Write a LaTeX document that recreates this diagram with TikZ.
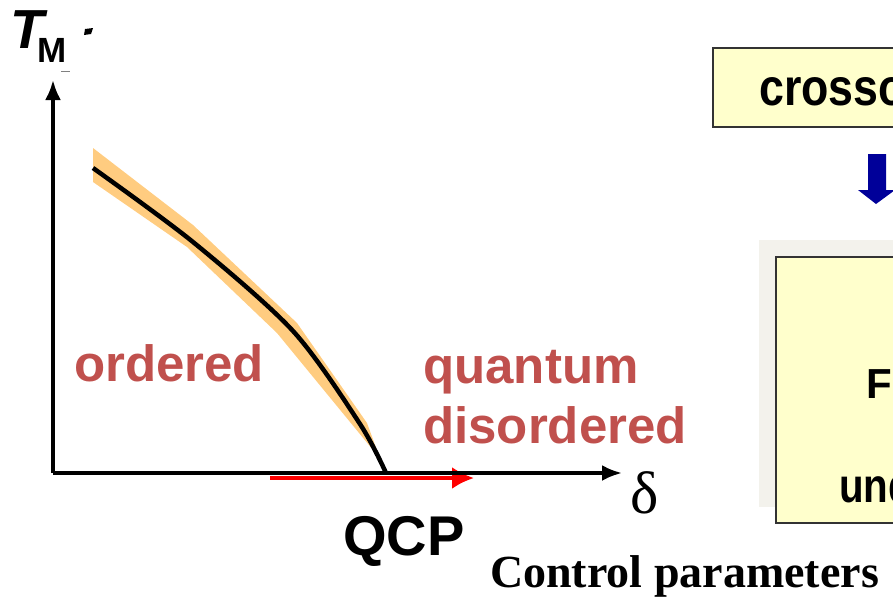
\documentclass[tikz,border=0pt]{standalone}
\usepackage{fontspec}
\setmainfont{Liberation Serif}
\setsansfont{Liberation Sans}
\usetikzlibrary{arrows.meta}

\definecolor{phasered}{HTML}{C0504D}
\definecolor{bandorange}{HTML}{FFCC80}
\definecolor{boxyellow}{HTML}{FFFFCC}
\definecolor{panelgray}{HTML}{F3F2EC}
\definecolor{arrowblue}{HTML}{000099}

\tikzset{
  lbl/.style={inner sep=0pt, anchor=base west, font=\sffamily\bfseries\fontsize{51}{60}\selectfont},
  phase/.style={lbl, text=phasered},
  axis/.style={line width=3.5pt, -{Latex[length=20pt,width=16pt]}},
  infobox/.style={draw=black!80, line width=1.5pt, fill=boxyellow},
}

\begin{document}
\begin{tikzpicture}[x=1pt,y=-1pt]
  \useasboundingbox (0,0) rectangle (893,598);

  % phase diagram
  \coordinate (origin) at (53,473);
  \coordinate (ytip) at (53,80);
  \coordinate (xtip) at (622,473);
  \coordinate (qstart) at (270,478);
  \coordinate (qend) at (474,478);

  \fill[bandorange] (93,148) -- (193,225) -- (297,323) -- (367,423) -- (385,472)
    -- (373,450) -- (277,333) -- (187,247) -- (93,182) -- cycle;
  \draw[red, line width=3.5pt, -{Latex[length=22pt,width=22pt]}] (qstart) -- (qend);
  \draw[axis] (origin) -- (ytip);
  \draw[axis] (origin) -- (xtip);
  \draw[line width=4.5pt, smooth] plot coordinates {(93,168) (193,242) (293,331) (360,424) (386,473)};

  \node[lbl, font=\sffamily\bfseries\itshape\fontsize{55}{60}\selectfont] (tlbl) at (10,48) {T};
  \node[lbl, font=\sffamily\bfseries\fontsize{35}{40}\selectfont] (mlbl) at (37,62) {M};
  \fill (85,29) -- (93,28) -- (91,34) -- (84,35) -- cycle;
  \draw[gray, line width=0.8pt] (61,71) -- (70,71);

  \node[phase] (ordered) at (74,381) {ordered};
  \node[phase] (quantum) at (423,383) {quantum};
  \node[phase] (disord) at (423,443) {disordered};
  \node[lbl, font=\sffamily\bfseries\fontsize{56}{60}\selectfont] (qcp) at (343,555) {QCP};
  \node[lbl, font=\rmfamily\fontsize{60}{60}\selectfont] (delta) at (630,513) {δ};
  \node[lbl, font=\rmfamily\bfseries\fontsize{46}{50}\selectfont] (ctrl) at (490,587) {Control parameters};

  % right panel
  \draw[infobox] (713,48) rectangle (910,127);
  \node[lbl, font=\sffamily\bfseries\fontsize{52}{60}\selectfont] (cross) at (759,105) {\scalebox{0.86}[1]{crossover}};
  \fill[arrowblue] (868,154) -- (886,154) -- (886,190) -- (895,190) -- (876,204)
    -- (858,190) -- (868,190) -- cycle;
  \fill[panelgray] (759,240) rectangle (910,507);
  \draw[infobox] (776,257) rectangle (910,523);
  \node[lbl, font=\sffamily\bfseries\fontsize{42}{50}\selectfont] (ftext) at (866,398) {F};
  \node[lbl, font=\sffamily\bfseries\fontsize{48}{50}\selectfont] (undtext) at (839,502) {\scalebox{0.84}[1]{und}};
\end{tikzpicture}
\end{document}
